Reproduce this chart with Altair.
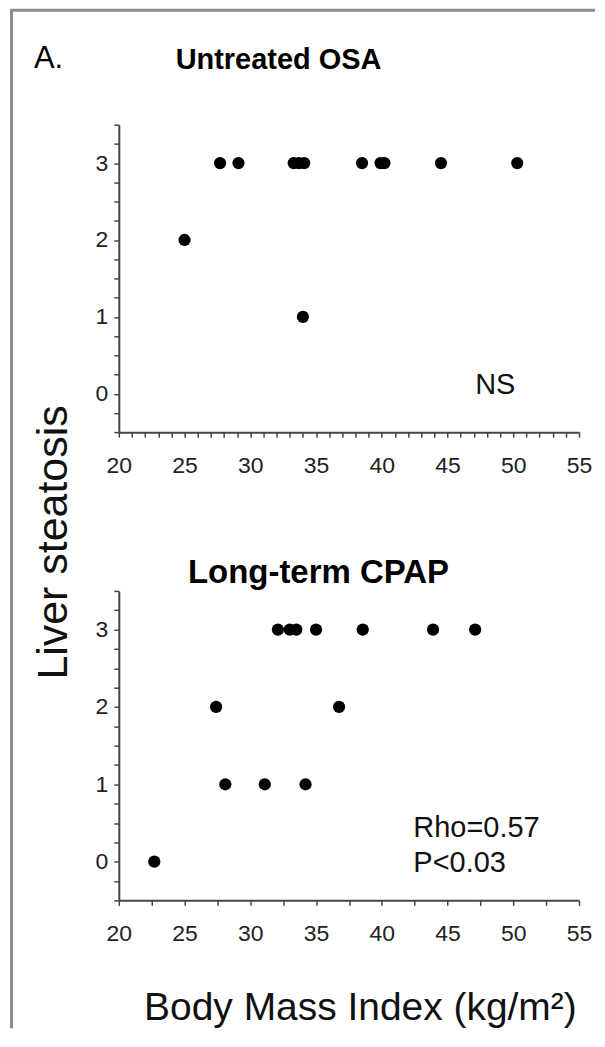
import altair as alt
import pandas as pd

# ---- data ----
untreated_bmi = [25.0, 27.7, 29.1, 33.3, 33.7, 34.1, 34.0, 38.5, 39.9, 40.2, 44.5, 50.3]
untreated_grade = [2, 3, 3, 3, 3, 3, 1, 3, 3, 3, 3, 3]

cpap_bmi = [22.7, 28.1, 31.1, 34.2, 27.4, 36.75, 32.1, 33.0, 33.5, 35.0, 38.55, 43.9, 47.1]
cpap_grade = [0, 1, 1, 1, 2, 2, 3, 3, 3, 3, 3, 3, 3]

x_ticks_untreated = list(range(20, 56))
x_ticks_cpap = [20, 22.5, 25, 27.5, 30, 32.5, 35, 37.5, 40, 42.5, 45, 47.5, 50, 52.5, 55]
y_ticks = [-0.5, -0.25, 0, 0.25, 0.5, 0.75, 1, 1.25, 1.5, 1.75, 2, 2.25, 2.5, 2.75, 3, 3.25, 3.5]

untreated_notes = {"label": ["NS"], "x": [47.1], "y": [0.0]}
cpap_notes = {"label": ["Rho=0.57", "P<0.03"], "x": [42.4, 42.4], "y": [0.32, -0.13]}

FONT = "Liberation Sans"
W, H1, H2 = 461, 308, 310


def label_mark(text, x, y, size, weight="normal", align="left"):
    return alt.Chart(pd.DataFrame({"k": [0]})).mark_text(
        align=align, baseline="alphabetic", fontSize=size, fontWeight=weight, font=FONT, color="#000"
    ).encode(x=alt.value(x), y=alt.value(y), text=alt.value(text))


def panel(bmi, grade, xvals, notes, height, xaxis_title, yaxis_title, extra):
    df = pd.DataFrame({"bmi": bmi, "grade": grade})
    xaxis = dict(
        values=xvals, labelExpr="datum.value % 5 == 0 ? format(datum.value, 'd') : ''",
        labelFlush=False, labelOverlap=False, tickSize=5, labelPadding=17,
    )
    yaxis = dict(
        values=y_ticks, labelExpr="datum.value % 1 == 0 ? format(datum.value, 'd') : ''",
        labelOverlap=False, tickSize=5, labelPadding=6,
    )
    if xaxis_title:
        xaxis.update(title=xaxis_title, titleX=241.5, titleY=119, titleAlign="center",
                     titleBaseline="alphabetic", titleFontSize=39, titleFontWeight="normal")
    else:
        xaxis.update(title=None)
    if yaxis_title:
        yaxis.update(title=yaxis_title, titleX=-52, titleY=-49, titleAngle=270, titleAlign="center",
                     titleBaseline="alphabetic", titleFontSize=43, titleFontWeight="normal")
    else:
        yaxis.update(title=None)

    xs = alt.Scale(domain=[20, 55], nice=False, zero=False)
    ys = alt.Scale(domain=[-0.5, 3.5], nice=False, zero=False)

    pts = alt.Chart(df).mark_circle(size=150, color="#000", opacity=1).encode(
        x=alt.X("bmi:Q", scale=xs, axis=alt.Axis(**xaxis)),
        y=alt.Y("grade:Q", scale=ys, axis=alt.Axis(**yaxis)),
    )
    txt = alt.Chart(pd.DataFrame(notes)).mark_text(
        align="left", baseline="alphabetic", fontSize=29, font=FONT, color="#111"
    ).encode(
        x=alt.X("x:Q", scale=xs, axis=alt.Axis(**xaxis)),
        y=alt.Y("y:Q", scale=ys, axis=alt.Axis(**yaxis)),
        text="label:N",
    )
    return alt.layer(pts, txt, *extra).properties(width=W, height=height)


frame_color = "#8c8c8c"
frame_top = alt.Chart(pd.DataFrame({"k": [0]})).mark_rule(color=frame_color, strokeWidth=3).encode(
    x=alt.value(-109), x2=alt.value(477), y=alt.value(-114.5))
frame_left = alt.Chart(pd.DataFrame({"k": [0]})).mark_rule(color=frame_color, strokeWidth=3).encode(
    x=alt.value(-107.5), y=alt.value(-114.5), y2=alt.value(905))

top_extra = [
    frame_top, frame_left,
    label_mark("A.", -85, -57, 31),
    label_mark("Untreated OSA", 160, -56, 29, weight="bold", align="center"),
]
bottom_extra = [
    label_mark("Long-term CPAP", 200, -8, 33, weight="bold", align="center"),
]

top = panel(untreated_bmi, untreated_grade, x_ticks_untreated, untreated_notes, H1, None, None, top_extra)
bottom = panel(cpap_bmi, cpap_grade, x_ticks_cpap, cpap_notes, H2,
               "Body Mass Index (kg/m²)", "Liver steatosis", bottom_extra)

chart = alt.vconcat(top, bottom, spacing=159, bounds="flush").properties(
    padding=0, background="white"
).configure_view(strokeWidth=0).configure_axis(
    grid=False, domainColor="#444", domainWidth=2, tickColor="#444", tickWidth=1.5,
    labelColor="#222", labelFont=FONT, labelFontSize=23, titleFont=FONT, titleColor="#111",
)

chart.save("out.html", embed_options={"renderer": "svg", "actions": False})
